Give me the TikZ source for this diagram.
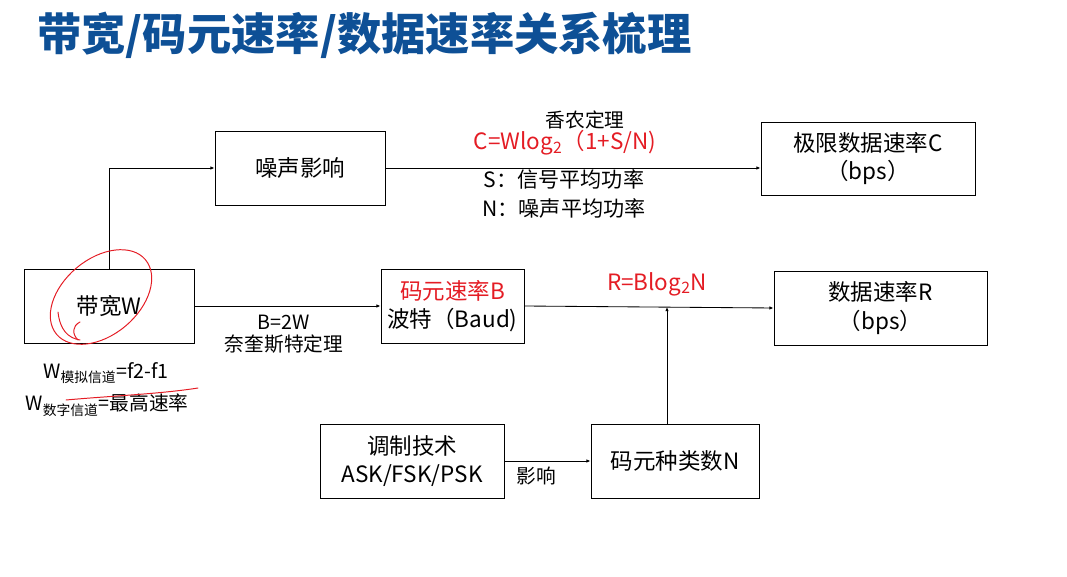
\documentclass[tikz,border=0pt]{standalone}
\usepackage{fontspec}
\setmainfont{Noto Sans CJK SC}
\usepackage{tikz}
\usetikzlibrary{arrows.meta}

\definecolor{titleblue}{RGB}{14,80,150}
\definecolor{noteRed}{RGB}{228,28,36}

\begin{document}
\begin{tikzpicture}[x=0.025cm,y=-0.025cm,
  box/.style={draw,line width=0.6pt,inner sep=0pt,align=center,
    font=\fontsize{16}{20}\selectfont},
  lbl/.style={inner sep=0pt,align=center,font=\fontsize{14}{18}\selectfont},
  redlbl/.style={lbl,text=noteRed,font=\fontsize{16}{20}\selectfont},
  arr/.style={line width=0.6pt,-{Latex[length=3pt,width=2.5pt]}},
  ink/.style={noteRed,line width=0.7pt,line cap=round}]
\useasboundingbox (0,0) rectangle (1067,577);

% title
\node[inner sep=0pt,anchor=west,text=titleblue,font=\fontsize{31.5}{34}\selectfont\bfseries]
  (title) at (37,35) {带宽/码元速率/数据速率关系梳理};

% boxes
\node[box,minimum width=4.25cm,minimum height=1.85cm] (noise) at (300,168) {噪声影响};
\node[box,minimum width=5.35cm,minimum height=1.825cm] (limit) at (868,158.5) {极限数据速率C\\（bps）};
\node[box,minimum width=4.25cm,minimum height=1.85cm] (bw) at (109,306) {带宽W};
\node[box,minimum width=3.575cm,minimum height=1.85cm] (baud) at (452.5,306)
  {{\color{noteRed}码元速率B}\\波特（Baud)};
\node[box,minimum width=5.325cm,minimum height=1.85cm] (rate) at (880.5,308) {数据速率R\\（bps）};
\node[box,minimum width=4.6cm,minimum height=1.85cm] (modu) at (412,461) {调制技术\\ASK/FSK/PSK};
\node[box,minimum width=4.2cm,minimum height=1.85cm] (kinds) at (675,461) {码元种类数N};
\coordinate (join) at (667,307);

% connectors
\draw[arr] (bw.north) |- (noise.west);
\draw[arr] (noise.east) -- (limit.west |- noise.east);
\draw[arr] (bw.east) -- (baud.west);
\draw[arr] (baud.east) -- (rate.west);
\draw[arr] (kinds.north -| join) -- (join);
\draw[arr] (modu.east) -- (kinds.west);

% labels
\node[lbl] (shannon) at (585,120) {香农定理};
\node[redlbl] (capf) at (565,143) {C=Wlog\textsubscript{2}（1+S/N)};
\node[lbl,font=\fontsize{15}{21}\selectfont] (sn) at (564,194) {S：信号平均功率\\N：噪声平均功率};
\node[lbl,font=\fontsize{14}{16}\selectfont] (nyq) at (284,334) {B=2W\\奈奎斯特定理};
\node[redlbl] (rf) at (657,284) {R=Blog\textsubscript{2}N};
\node[lbl] (eff) at (536,476) {影响};
\node[lbl,font=\fontsize{14}{17}\selectfont] (wa) at (106,373) {W\textsubscript{模拟信道}=f2-f1};
\node[lbl,font=\fontsize{14}{17}\selectfont] (wd) at (107,405) {W\textsubscript{数字信道}=最高速率};

% hand marks
\draw[ink,rotate around={40:(101,297)}] (101,297) ellipse (58 and 38);
\draw[ink] (58,312) .. controls (60,330) and (68,338) .. (80,340);
\draw[ink] (80,322) .. controls (72,326) and (72,334) .. (78,340);
\draw[ink] (66,400) .. controls (110,396) and (160,394) .. (198,388);
\end{tikzpicture}
\end{document}
